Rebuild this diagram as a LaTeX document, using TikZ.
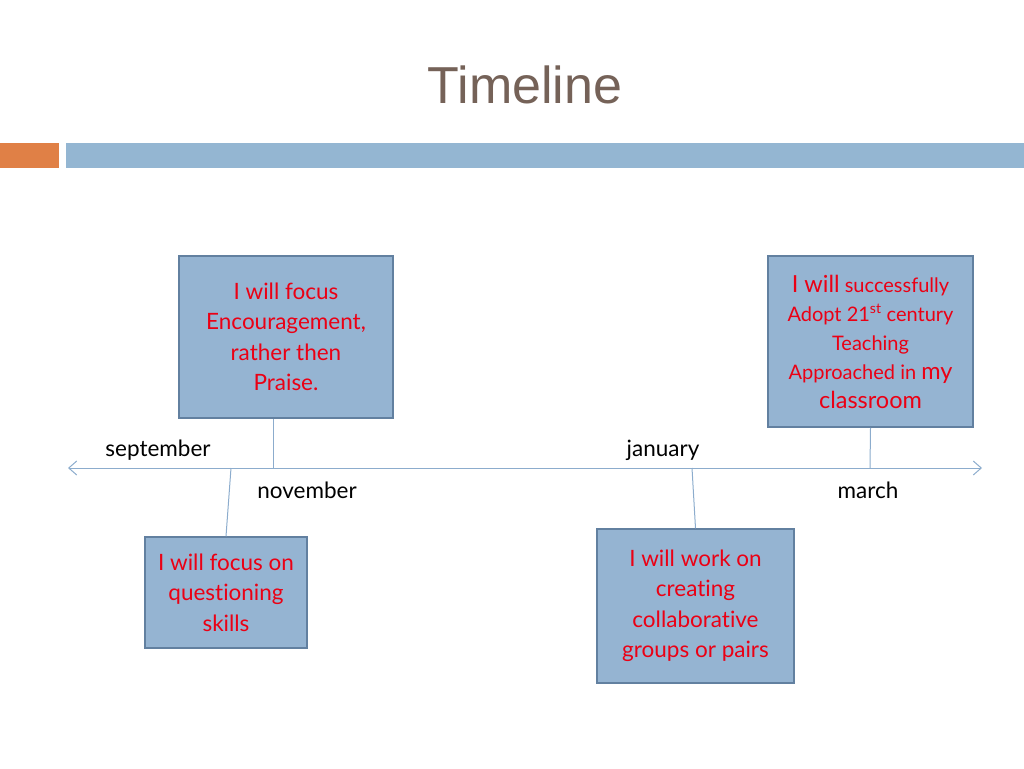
\documentclass[tikz,border=0pt]{standalone}
\usepackage{fontspec}
\setmainfont{Lato}[Ligatures=NoCommon]
\newfontfamily\titlefont{Liberation Sans}
\usetikzlibrary{arrows.meta}
\definecolor{barblue}{RGB}{148,182,210}
\definecolor{barorange}{RGB}{224,128,70}
\definecolor{titlebrown}{RGB}{117,98,88}
\definecolor{boxfill}{RGB}{149,180,210}
\definecolor{boxline}{RGB}{98,128,160}
\definecolor{axisblue}{RGB}{140,172,205}
\definecolor{textred}{RGB}{235,0,20}
\newcommand{\bigpart}[1]{{\fontsize{23.5}{29}\selectfont #1}}

\tikzset{
	goal/.style={draw=boxline, line width=1.5pt, fill=boxfill, text=textred, align=center, inner sep=0pt, font=\fontsize{22.5}{30.5}\selectfont},
	month/.style={anchor=base, font=\fontsize{22.5}{25}\selectfont, text=black},
	link/.style={draw=axisblue, line width=1pt}
}

\begin{document}
\begin{tikzpicture}[x=1pt,y=-1pt]
			%%%%% START %%%%%
			\useasboundingbox (0,0) rectangle (1024,768);
			
			\node[anchor=base, font=\titlefont\fontsize{52}{60}\selectfont, text=titlebrown] (title) at (525,103) {Timeline};
			\fill[barorange] (0,143) rectangle (59,168);
			\fill[barblue] (66,143) rectangle (1024,168);
			
			\coordinate (tl) at (68,468);
			\coordinate (tr) at (982,468);
			\draw[link, {Straight Barb[length=8pt,width=14pt]}-{Straight Barb[length=8pt,width=14pt]}] (tl) -- (tr);
			
			\coordinate (sepmark) at (231,468);
			\coordinate (novmark) at (273,468);
			\coordinate (janmark) at (692,468);
			\coordinate (marmark) at (870,468);
			
			\node[goal, minimum width=214pt, minimum height=162pt] (b1) at (286,337) {I will focus\\Encouragement,\\rather then\\Praise.};
			\node[goal, minimum width=162pt, minimum height=111pt] (b2) at (226,592.5) {I will focus on\\questioning\\skills};
			\node[goal, minimum width=197pt, minimum height=154pt] (b3) at (695.5,606) {I will work on\\creating\\collaborative\\groups or pairs};
			\node[goal, minimum width=205pt, minimum height=171pt, font=\fontsize{20}{29}\selectfont] (b4) at (870.5,341.5) {\bigpart{I will} successfully\\Adopt 21\textsuperscript{st} century\\Teaching\\Approached in \bigpart{my}\\\bigpart{classroom}};
			
			\draw[link] (novmark) -- (novmark |- b1.south);
			\draw[link] (sepmark) -- (b2.north);
			\draw[link] (janmark) -- (b3.north);
			\draw[link] (marmark) -- (b4.south);
			
			\node[month] (sep) at (158,456) {september};
			\node[month] (nov) at (307,498) {november};
			\node[month] (jan) at (663,456) {january};
			\node[month] (mar) at (868,498) {march};
			
			%%%%% END %%%%%
\end{tikzpicture}
\end{document}
